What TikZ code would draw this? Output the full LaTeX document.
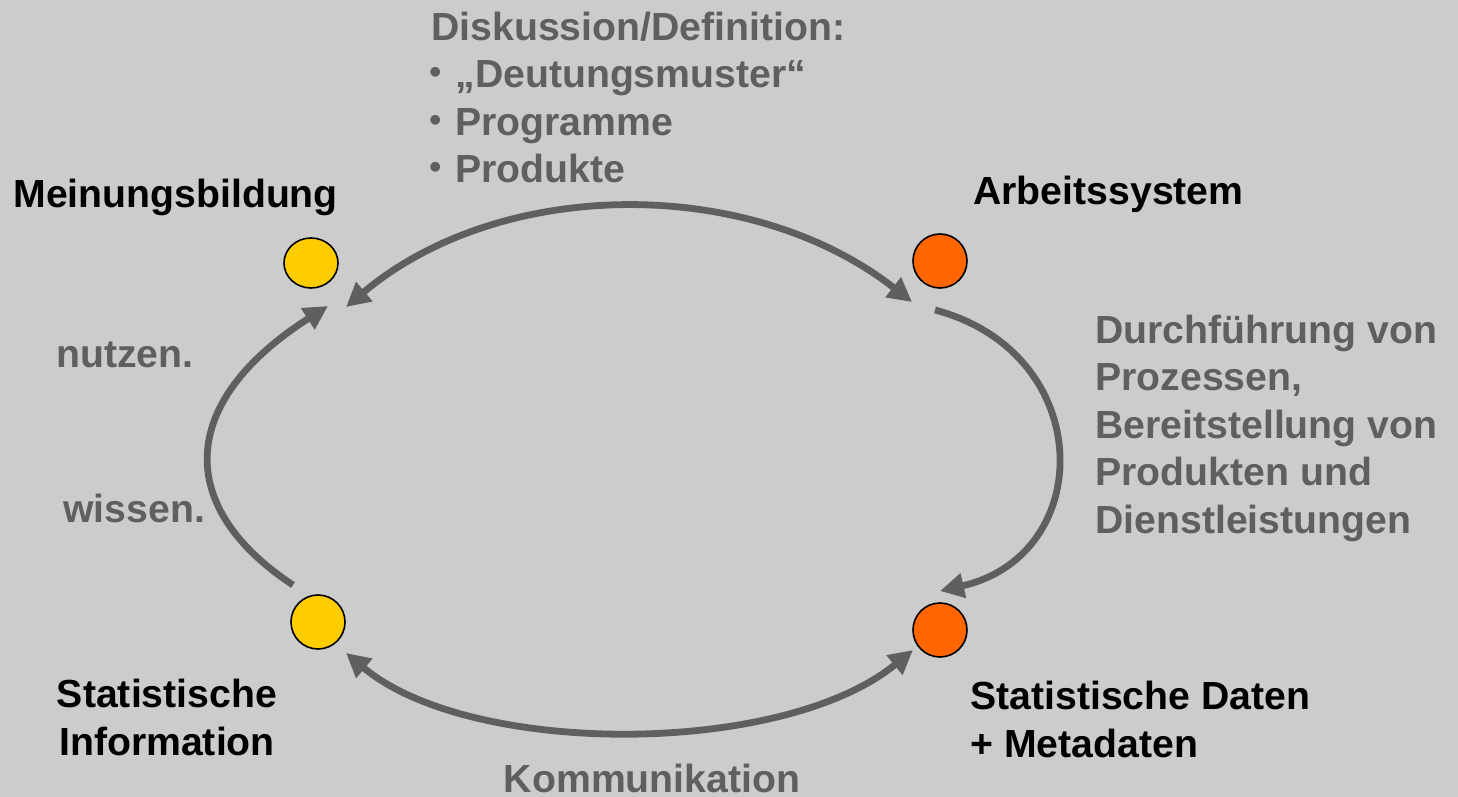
\documentclass[tikz,border=0pt]{standalone}
\usepackage{fontspec}
\setmainfont{Liberation Sans}
\usepackage{tikz}
\usetikzlibrary{arrows.meta}
\usetikzlibrary{shapes.geometric}
\definecolor{bggray}{HTML}{CCCCCC}
\definecolor{txtgray}{HTML}{5F5F5F}
\definecolor{dotyellow}{HTML}{FFCC00}
\definecolor{dotorange}{HTML}{FF6600}
\tikzset{
  stagedot/.style={shape=ellipse,draw=black,line width=0.8pt,fill=#1,minimum width=27pt,minimum height=27pt,inner sep=0pt},
  title/.style={font=\fontsize{19.6}{23.75}\selectfont\bfseries,text=black,inner sep=0pt,align=left},
  note/.style={title,text=txtgray},
  cycarrow/.style={draw=txtgray,line width=3.4pt}
}
\newcommand{\bul}{\makebox[12pt][l]{\hspace{-1pt}\raisebox{2pt}{\fontsize{17}{17}\selectfont\textbullet}}}

\begin{document}
\begin{tikzpicture}[x=0.5pt,y=-0.5pt,>={Triangle[length=12pt,width=12pt]}]
    \fill[bggray] (0,0) rectangle (1458,797);
    \useasboundingbox (0,0) rectangle (1458,797);
    % the four stations
    \node[stagedot=dotyellow,minimum height=25pt] (mb) at (311,263) {};
    \node[stagedot=dotorange] (as) at (940,261) {};
    \node[stagedot=dotorange] (sd) at (940,630) {};
    \node[stagedot=dotyellow] (si) at (318,622) {};
    % labels (multi-line ones sit on their last baseline)
    \node[title,anchor=base west] (mbtext) at (13,207) {Meinungsbildung};
    \node[title,anchor=base west] (astext) at (973,205) {Arbeitssystem};
    \node[title,anchor=base west] (sdtext) at (970,757) {Statistische Daten\\+ Metadaten};
    \node[title,anchor=base,align=center] (sitext) at (167,755) {Statistische\\Information};
    \node[note,anchor=base west] (disk) at (431,183) {Diskussion/Definition:\\\bul „Deutungsmuster“\\\bul Programme\\\bul Produkte};
    \node[note,anchor=base west] (durch) at (1095,533) {Durchführung von\\Prozessen,\\Bereitstellung von\\Produkten und\\Dienstleistungen};
    \node[note,anchor=base west] (nutzen) at (56,367) {nutzen.};
    \node[note,anchor=base west] (wissen) at (63,522) {wissen.};
    \node[note,anchor=base] (komm) at (652,792) {Kommunikation};
    % the cycle
    \draw[cycarrow,<->] ([shift={(35,44)}]mb.center) .. controls (502,176) and (751,176) .. ([shift={(-28,41)}]as.center);
    \draw[cycarrow,->] ([shift={(-5,49)}]as.center) .. controls (1097,353) and (1097,555) .. ([shift={(0,-39)}]sd.center);
    \draw[cycarrow,<->] ([shift={(28,31)}]si.center) .. controls (470,757) and (782,757) .. ([shift={(-27,20)}]sd.center);
    \draw[cycarrow,->] ([shift={(-25,-37)}]si.center) .. controls (176,508) and (176,403) .. ([shift={(17,43)}]mb.center);
\end{tikzpicture}
\end{document}
